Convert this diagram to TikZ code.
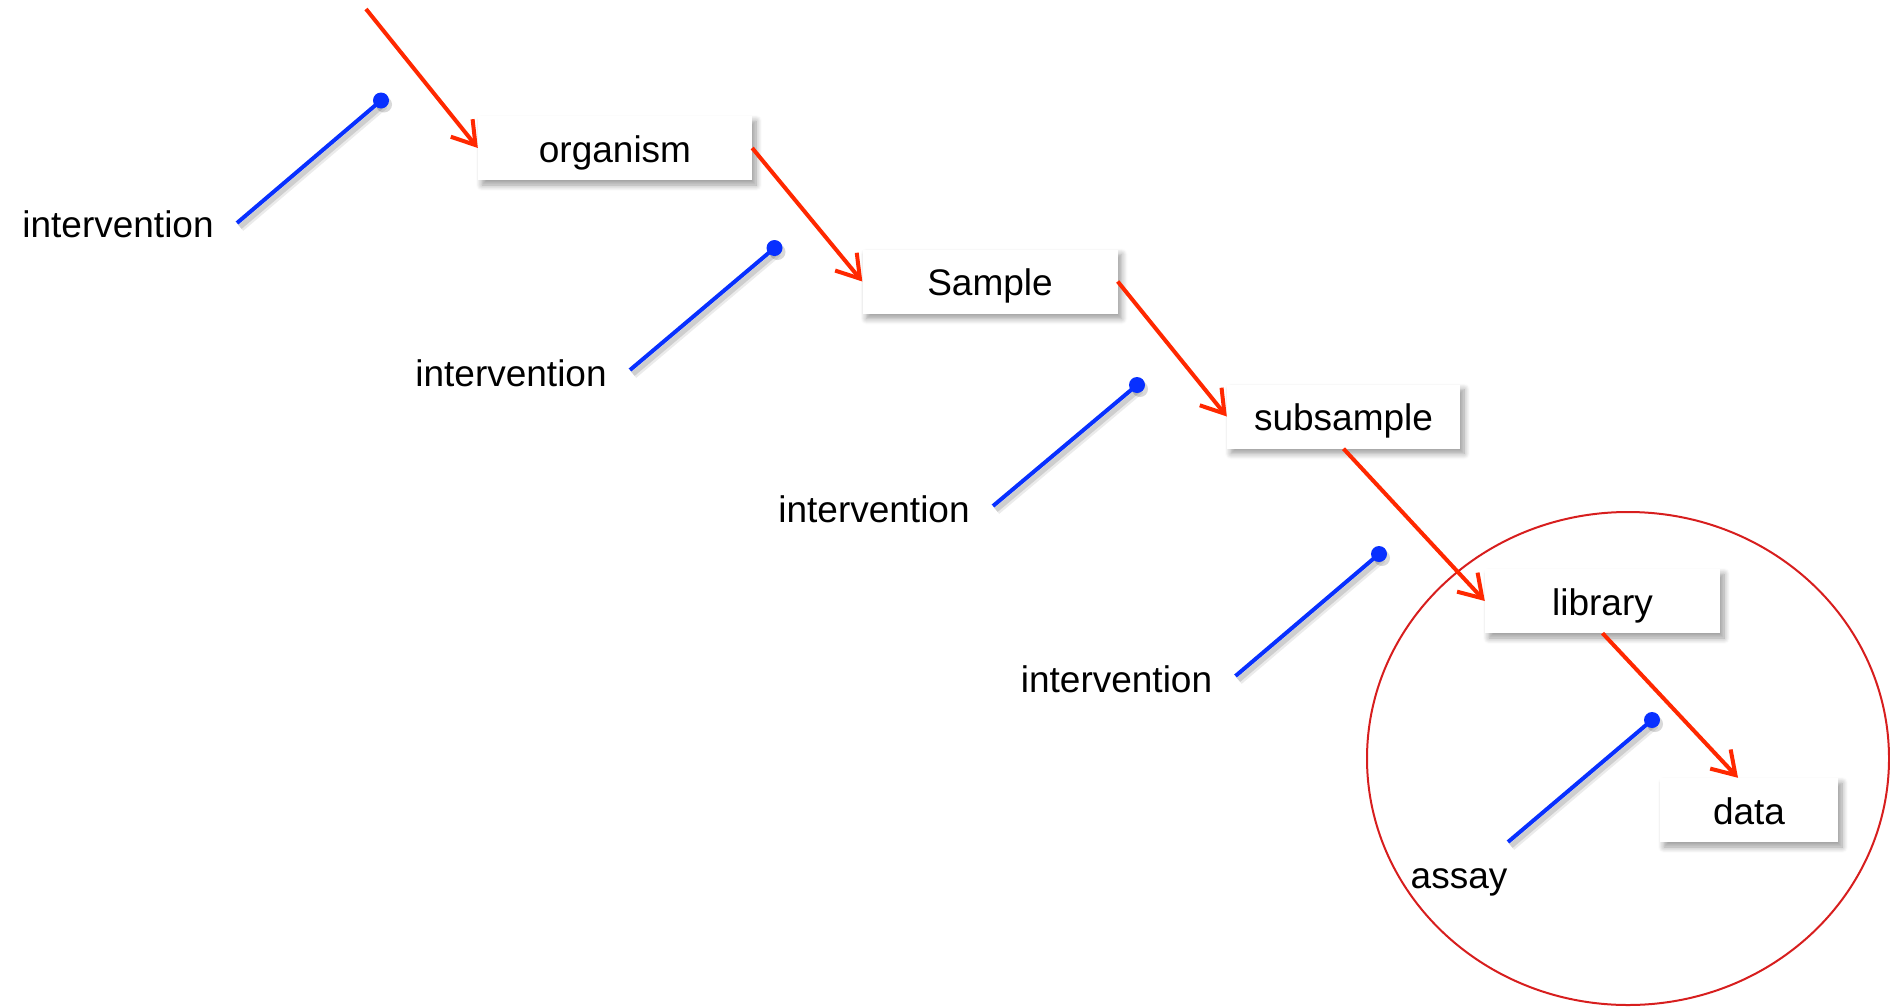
\documentclass[tikz,border=0pt]{standalone}
\usepackage{fontspec}
\setmainfont{Liberation Sans}
\usetikzlibrary{arrows.meta,shadows,shadows.blur,calc}
\definecolor{myblue}{RGB}{8,48,255}
\definecolor{myred}{RGB}{255,40,0}
\definecolor{ellred}{RGB}{215,30,30}
\begin{document}
\begin{tikzpicture}[x=1pt,y=-1pt,
  box/.style={fill=white, minimum height=64pt, text height=28pt, text depth=0pt, inner sep=0pt,
    font=\fontsize{37}{44}\selectfont,
    blur shadow={shadow xshift=4pt,shadow yshift=-5pt,shadow blur radius=6pt,shadow opacity=40,shadow blur steps=8}},
  lbl/.style={anchor=base, inner sep=0pt, font=\fontsize{37}{44}\selectfont},
  flow/.style={draw=myred, line width=4pt, -{Straight Barb[length=22pt,width=28pt]}},
  lever/.style={draw=myblue, line width=4pt,
    preaction={draw=black, opacity=0.08, line width=10pt, transform canvas={xshift=3pt,yshift=-4pt}},
    preaction={draw=black, opacity=0.12, line width=5pt, transform canvas={xshift=3pt,yshift=-4pt}}},
  knob/.style={fill=myblue,
    preaction={fill=black, opacity=0.15, transform canvas={xshift=3pt,yshift=-4pt}}}
]
\useasboundingbox (0,0) rectangle (1890,1007);

% grouping ellipse
\draw[ellred, line width=2pt] (1628,758.5) ellipse [x radius=261, y radius=246.5];

% boxes
\node[box, minimum width=274pt] (org) at (615,148) {organism};
\node[box, minimum width=255pt] (smp) at (990,281.5) {Sample};
\node[box, minimum width=233pt] (sub) at (1343.5,416.5) {subsample};
\node[box, minimum width=235pt] (lib) at (1602.5,601) {library};
\node[box, minimum width=178pt] (dat) at (1749,810) {data};

% labels
\node[lbl] (i1) at (118,237) {intervention};
\node[lbl] (i2) at (511,386) {intervention};
\node[lbl] (i3) at (874,522) {intervention};
\node[lbl] (i4) at (1116.5,692) {intervention};
\node[lbl] (as) at (1459,888) {assay};

% lever coordinates
\coordinate (s1) at (237,223);   \coordinate (d1) at (381,100.5);
\coordinate (s2) at (630,370);   \coordinate (d2) at (774.5,248);
\coordinate (s3) at (993,506);   \coordinate (d3) at (1137,385);
\coordinate (s4) at (1235.5,676);\coordinate (d4) at (1379,554);
\coordinate (s5) at (1508,842);  \coordinate (d5) at (1652,720);
\coordinate (top) at (366,9);

% levers
\foreach \k in {1,...,5}{
  \draw[lever] (s\k) -- (d\k);
  \path[knob] (d\k) circle (8pt);
}

% flow arrows
\draw[flow] (top) -- (org.west);
\draw[flow] (org.east) -- (smp.west);
\draw[flow] (smp.east) -- (sub.west);
\draw[flow] (sub.south) -- (lib.west);
\draw[flow] (lib.south) -- ($(dat.north)+(-11,0)$);
\end{tikzpicture}
\end{document}
